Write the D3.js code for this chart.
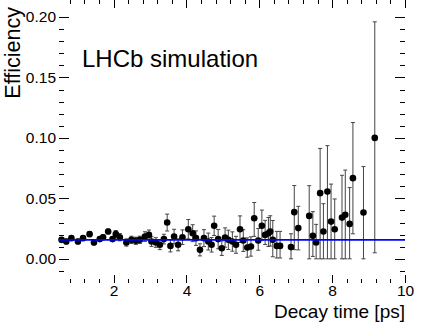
<!DOCTYPE html>
<html>
<head>
<meta charset="utf-8">
<script src="https://cdn.jsdelivr.net/npm/d3@7"></script>
<style>
  body { margin: 0; background: #fff; }
  svg text { font-family: "Liberation Sans", Arial, sans-serif; fill: #000; }
</style>
</head>
<body>
<script>
// efficiency vs decay time
var decayTime = [0.57, 0.70, 0.84, 1.02, 1.16, 1.34, 1.46, 1.62, 1.71, 1.85, 1.97, 2.06, 2.17, 2.35, 2.49, 2.61, 2.72, 2.86,
  2.97, 3.04, 3.16, 3.27, 3.38, 3.47, 3.56, 3.66, 3.77, 3.89, 4.05, 4.17, 4.26, 4.37, 4.48, 4.60, 4.69, 4.76, 4.87, 4.97,
  5.06, 5.15, 5.26, 5.36, 5.47, 5.56, 5.67, 5.77, 5.86, 5.97, 6.07, 6.16, 6.25, 6.30, 6.37, 6.48, 6.57, 6.87, 6.96, 7.07,
  7.37, 7.47, 7.56, 7.67, 7.76, 7.87, 7.97, 8.07, 8.27, 8.36, 8.48, 8.57, 8.86, 9.17];
var efficiency = [0.0157, 0.0143, 0.0171, 0.0143, 0.0171, 0.0204, 0.0135, 0.0163, 0.0179, 0.0226, 0.0163, 0.0204, 0.0179,
  0.0135, 0.0157, 0.0149, 0.0157, 0.0184, 0.0198, 0.0143, 0.0135, 0.0116, 0.0163, 0.0300, 0.0107, 0.0184, 0.0116, 0.0179,
  0.0245, 0.0212, 0.0171, 0.0074, 0.0171, 0.0143, 0.0116, 0.0273, 0.0163, 0.0088, 0.0176, 0.0157, 0.0143, 0.0116, 0.0245,
  0.0151, 0.0093, 0.0102, 0.0336, 0.0151, 0.0273, 0.0198, 0.0212, 0.0226, 0.0157, 0.0107, 0.0107, 0.0097, 0.0386, 0.0254,
  0.0355, 0.0190, 0.0135, 0.0543, 0.0226, 0.0556, 0.0308, 0.0245, 0.0341, 0.0364, 0.0289, 0.0667, 0.0383, 0.1000];
var errHigh = [0.002, 0.002, 0.002, 0.002, 0.002, 0.002, 0.002, 0.002, 0.002, 0.002, 0.002, 0.003, 0.003, 0.003, 0.003,
  0.003, 0.003, 0.004, 0.004, 0.004, 0.004, 0.004, 0.004, 0.007, 0.005, 0.006, 0.005, 0.006, 0.008, 0.007, 0.006, 0.005,
  0.007, 0.007, 0.006, 0.008, 0.008, 0.006, 0.008, 0.008, 0.008, 0.007, 0.011, 0.009, 0.008, 0.008, 0.013, 0.010, 0.013,
  0.012, 0.013, 0.013, 0.016, 0.012, 0.012, 0.011, 0.022, 0.018, 0.025, 0.020, 0.015, 0.037, 0.023, 0.038, 0.031, 0.025,
  0.035, 0.037, 0.030, 0.046, 0.038, 0.096];
var errLow = [0.002, 0.002, 0.002, 0.002, 0.002, 0.002, 0.002, 0.002, 0.002, 0.002, 0.002, 0.003, 0.003, 0.003, 0.003,
  0.003, 0.003, 0.004, 0.004, 0.004, 0.004, 0.004, 0.004, 0.007, 0.005, 0.006, 0.005, 0.006, 0.008, 0.007, 0.006, 0.005,
  0.007, 0.007, 0.006, 0.008, 0.008, 0.006, 0.008, 0.008, 0.008, 0.007, 0.011, 0.009, 0.008, 0.008, 0.015, 0.008, 0.012,
  0.008, 0.011, 0.012, 0.014, 0.010, 0.010, 0.010, 0.031, 0.018, 0.036, 0.017, 0.0135, 0.0543, 0.0226, 0.0556, 0.0308,
  0.0245, 0.0341, 0.0364, 0.0289, 0.046, 0.0383, 0.095];
var fitValue = 0.0157;

var xTicks = [2, 4, 6, 8, 10];
var yTicks = [0, 0.05, 0.10, 0.15, 0.20];

var w = 427, h = 324;
var margin = { left: 59, right: 22, top: 17, bottom: 41 };

var x = d3.scaleLinear().domain([0.5, 10]).range([margin.left, w - margin.right]);
var y = d3.scaleLinear().domain([-0.02, 0.20]).range([h - margin.bottom, margin.top]);

var svg = d3.select("body").append("svg").attr("width", w).attr("height", h);

var xMinor = d3.range(0.8, 10.01, 0.4);
var yMinor = d3.range(-0.01, 0.2001, 0.01);

function axis(gen, tx, ty, values, size, labels, pad) {
  var g = svg.append("g").attr("transform", "translate(" + tx + "," + ty + ")")
    .call(gen.tickValues(values).tickSizeInner(size).tickSizeOuter(0).tickPadding(pad || 3)
      .tickFormat(labels || ""));
  g.attr("font-family", null).attr("font-size", null);
  g.select(".domain").remove();
  g.selectAll("line").attr("stroke", "#000").attr("shape-rendering", "crispEdges");
  g.selectAll("text").attr("font-size", 15.5);
  return g;
}

var bottom = y(-0.02), top = y(0.20), left = x(0.5), right = x(10);
axis(d3.axisBottom(x), 0, bottom, xMinor, -4);
axis(d3.axisBottom(x), 0, bottom, xTicks, -8, d3.format("d"), 2);
axis(d3.axisTop(x), 0, top, xMinor, -4);
axis(d3.axisTop(x), 0, top, xTicks, -8);
axis(d3.axisLeft(y), left, 0, yMinor, -5);
axis(d3.axisLeft(y), left, 0, yTicks, -10, d3.format(".2f"));
axis(d3.axisRight(y), right, 0, yMinor, -5);
axis(d3.axisRight(y), right, 0, yTicks, -10);

svg.append("rect").attr("x", left).attr("y", top).attr("width", right - left).attr("height", bottom - top)
  .attr("fill", "none").attr("stroke", "#000").attr("shape-rendering", "crispEdges");

// error bars
var pts = decayTime.map(function (t, i) {
  return { t: t, e: efficiency[i], hi: efficiency[i] + errHigh[i], lo: Math.max(0, efficiency[i] - errLow[i]) };
});

var bars = svg.append("g").attr("stroke", "#444").attr("stroke-width", 1);
bars.selectAll("line.v").data(pts).enter().append("line").attr("class", "v")
  .attr("x1", function (d) { return x(d.t); }).attr("x2", function (d) { return x(d.t); })
  .attr("y1", function (d) { return y(d.hi); }).attr("y2", function (d) { return y(d.lo); });
["hi", "lo"].forEach(function (k) {
  bars.selectAll("line." + k).data(pts).enter().append("line").attr("class", k)
    .attr("x1", function (d) { return x(d.t) - 2; }).attr("x2", function (d) { return x(d.t) + 2; })
    .attr("y1", function (d) { return y(d[k]); }).attr("y2", function (d) { return y(d[k]); });
});

svg.append("g").selectAll("circle").data(pts).enter().append("circle")
  .attr("cx", function (d) { return x(d.t); }).attr("cy", function (d) { return y(d.e); })
  .attr("r", 3.3).attr("fill", "#000");

// fit line
svg.append("line").attr("x1", left).attr("x2", right).attr("y1", y(fitValue)).attr("y2", y(fitValue))
  .attr("stroke", "#0000ff").attr("stroke-width", 1.6);

svg.append("text").attr("x", 82).attr("y", 67).attr("font-size", 24).text("LHCb simulation");

svg.append("text").attr("x", right).attr("y", 318).attr("text-anchor", "end").attr("font-size", 19)
  .text("Decay time [ps]");

svg.append("text").attr("transform", "translate(20,7) rotate(-90)").attr("text-anchor", "end")
  .attr("font-size", 21.5).text("Efficiency");
</script>
</body>
</html>
